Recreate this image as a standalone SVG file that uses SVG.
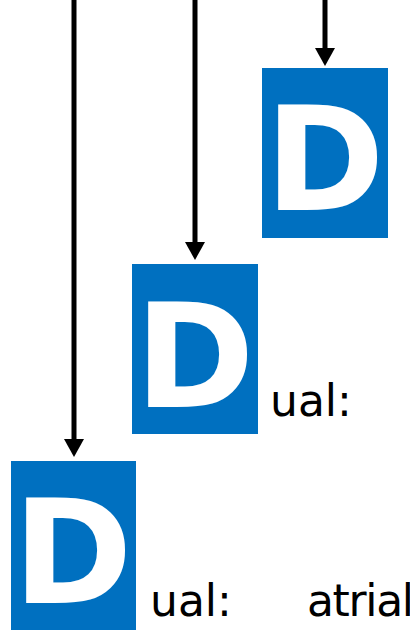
<svg xmlns="http://www.w3.org/2000/svg" width="410" height="630" viewBox="0 0 410 630">
  <style>
    .box { fill: #0070C0; }
    .letter { font-family: "DejaVu Sans", Verdana, sans-serif; font-weight: bold; font-size: 144px; fill: #ffffff; }
    .label { font-family: "DejaVu Sans", Verdana, sans-serif; font-size: 44px; fill: #000000; }
    .wire { stroke: #000000; stroke-width: 5; fill: none; }
  </style>
  <defs>
    <marker id="arrowhead" markerUnits="userSpaceOnUse" markerWidth="20" markerHeight="20" viewBox="0 0 18 20" refX="0" refY="10" orient="auto">
      <path d="M0,0 L18,10 L0,20 Z" fill="#000000"/>
    </marker>
  </defs>

  <!-- connectors: vertical drops into each tile -->
  <g id="connectors">
    <line class="wire" x1="325" y1="0" x2="325" y2="48" marker-end="url(#arrowhead)"/>
    <line class="wire" x1="195" y1="0" x2="195" y2="242" marker-end="url(#arrowhead)"/>
    <line class="wire" x1="74" y1="0" x2="74" y2="439" marker-end="url(#arrowhead)"/>
  </g>

  <!-- top tile -->
  <g id="tile-top">
    <rect class="box" x="262" y="68" width="126" height="170"/>
    <text class="letter" x="265" y="210">D</text>
  </g>

  <!-- middle tile -->
  <g id="tile-middle">
    <rect class="box" x="132" y="264" width="126" height="170"/>
    <text class="letter" x="135" y="407">D</text>
    <text class="label" x="270" y="416">ual:</text>
  </g>

  <!-- bottom tile -->
  <g id="tile-bottom">
    <rect class="box" x="11" y="461" width="125" height="170"/>
    <text class="letter" x="13" y="603">D</text>
    <text class="label" x="150" y="616">ual:</text>
    <text class="label" x="307" y="616" textLength="107" lengthAdjust="spacing">atrial</text>
  </g>
</svg>
